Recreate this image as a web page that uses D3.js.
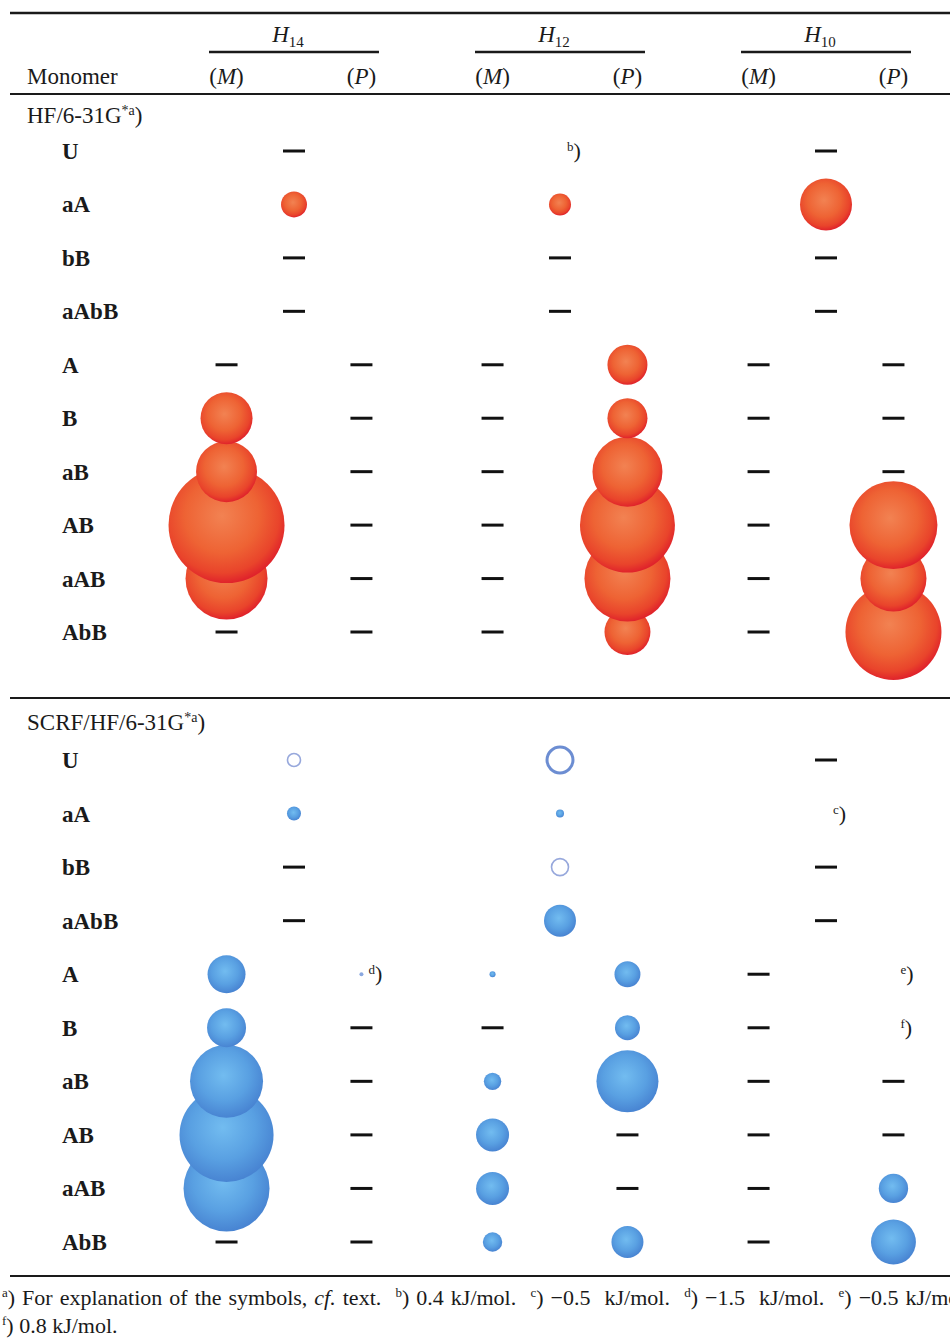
<!DOCTYPE html>
<html>
<head>
<meta charset="utf-8">
<script src="https://cdn.jsdelivr.net/npm/d3@7"></script>
<style>
  body { margin: 0; background: #fff; }
  svg { display: block; }
  text { font-family: "Liberation Serif", "Times New Roman", serif; fill: #1a1a1a; }
</style>
</head>
<body>
<svg id="chart" width="950" height="1338"></svg>
<script>
// Rows, helix groups and hands
const rows = ["U", "aA", "bB", "aAbB", "A", "B", "aB", "AB", "aAB", "AbB"];
const groups = ["14", "12", "10"];
const hands = ["M", "P"];

// sphere size (relative area units); 0 = "—"; "b" etc = footnote
// {ring: v} open circle, {dot: v, note: "d"} tiny dot with footnote
// first four rows: one entry per helix, other rows: (M),(P) per helix
const hfSingle = [
  [0, "b", 0],        // U
  [5.0, 3.6, 20.1],   // aA
  [0, 0, 0],          // bB
  [0, 0, 0]           // aAbB
];
const hfDouble = [
  [0, 0, 0, 11.9, 0, 0],        // A
  [20.1, 0, 0, 11.9, 0, 0],     // B
  [27.6, 0, 0, 36.4, 0, 0],     // aB
  [100, 0, 0, 67.0, 0, 57.5],   // AB
  [50.0, 0, 0, 55.0, 0, 32.4],  // aAB
  [0, 0, 0, 15.7, 0, 68.5]      // AbB
];
const scrfSingle = [
  [{ring: 1.26}, {ring: 5.0}, 0],  // U
  [1.46, 0.48, "c"],               // aA
  [0, {ring: 2.15}, 0],            // bB
  [0, 7.6, 0]                      // aAbB
];
const scrfDouble = [
  [10.7, {dot: 0.12, note: "d"}, 0.27, 5.0, 0, "e"],  // A
  [11.3, 0, 0, 4.64, 0, "f"],                         // B
  [39.6, 0, 2.25, 28.6, 0, 0],                        // aB
  [65.7, 0, 8.1, 0, 0, 0],                            // AB
  [55.0, 0, 8.1, 0, 0, 6.4],                          // aAB
  [0, 0, 2.8, 7.6, 0, 15.0]                           // AbB
];
const notes = [
  ["a", "For explanation of the symbols, ", "cf.", " text."],
  ["b", "0.4 kJ/mol."],
  ["c", "\u22120.5  kJ/mol."],
  ["d", "\u22121.5  kJ/mol."],
  ["e", "\u22120.5 kJ/mol."]
];

const svg = d3.select("#chart");
const defs = svg.append("defs");

function sphere(id, stops) {
  const g = defs.append("radialGradient").attr("id", id)
    .attr("cx", "46%").attr("cy", "42%").attr("r", "58%");
  g.selectAll("stop").data(stops).join("stop")
    .attr("offset", d => d[0]).attr("stop-color", d => d[1]);
}
sphere("red", [["0%", "#f28252"], ["55%", "#ee6334"], ["85%", "#e9442b"], ["100%", "#e0232b"]]);
sphere("blue", [["0%", "#72bcf0"], ["60%", "#59a0e2"], ["100%", "#4884d2"]]);

// Scales
const x = d3.scaleBand().domain(groups).range([209, 911]).paddingInner(0.361);
const hx = d3.scalePoint().domain(hands).range([0, x.bandwidth()]).padding(0.13);
const r = d3.scaleSqrt().domain([0, 100]).range([0, 58]);

const sections = [
  {label: "HF/6-31G", labelY: 123, rule: null, y: d3.scalePoint().domain(rows).range([151, 632]),
   single: hfSingle, double: hfDouble, fill: "url(#red)"},
  {label: "SCRF/HF/6-31G", labelY: 730, rule: 698, y: d3.scalePoint().domain(rows).range([760, 1242]),
   single: scrfSingle, double: scrfDouble, fill: "url(#blue)"}
];

// Rules
const rule = (y, w) => svg.append("line").attr("x1", 10).attr("x2", 950)
  .attr("y1", y).attr("y2", y).attr("stroke", "#1a1a1a").attr("stroke-width", w);
rule(13, 2.6);
rule(94, 2);
rule(1276, 2);

// Header
svg.append("text").attr("x", 27).attr("y", 84).attr("font-size", 23).text("Monomer");
const gh = svg.append("g").selectAll("g").data(groups).join("g");
gh.append("text")
  .attr("x", d => x(d) + x.bandwidth() / 2 - 6).attr("y", 42)
  .attr("font-size", 23).attr("text-anchor", "middle")
  .call(t => {
    t.append("tspan").attr("font-style", "italic").text("H");
    t.append("tspan").attr("font-size", 15).attr("dy", 5).text(d => d);
  });
gh.append("line")
  .attr("x1", d => x(d)).attr("x2", d => x(d) + x.bandwidth())
  .attr("y1", 52).attr("y2", 52).attr("stroke", "#1a1a1a").attr("stroke-width", 2.5);
gh.selectAll("text.hand").data(g => hands.map(h => ({g, h}))).join("text")
  .attr("class", "hand")
  .attr("x", d => x(d.g) + hx(d.h)).attr("y", 84)
  .attr("font-size", 23).attr("text-anchor", "middle")
  .call(t => {
    t.append("tspan").text("(");
    t.append("tspan").attr("font-style", "italic").text(d => d.h);
    t.append("tspan").text(")");
  });

function noteMark(sel, letter) {
  sel.append("tspan").attr("font-size", 13).attr("dy", -7).text(letter);
  sel.append("tspan").attr("dy", 7).text(")");
}

sections.forEach(sec => {
  if (sec.rule) rule(sec.rule, 2);
  const lab = svg.append("text").attr("x", 27).attr("y", sec.labelY).attr("font-size", 23);
  lab.append("tspan").text(sec.label);
  lab.append("tspan").attr("font-size", 14).attr("dy", -8).text("*a");
  lab.append("tspan").attr("dy", 8).text(")");

  svg.append("g").selectAll("text").data(rows).join("text")
    .attr("x", 62).attr("y", d => sec.y(d) + 8)
    .attr("font-size", 23).attr("font-weight", "bold").text(d => d);

  // flatten cells
  const cells = [];
  rows.forEach((row, i) => {
    if (i < 4) {
      groups.forEach((g, gi) => cells.push({row, i, cx: x(g) + x.bandwidth() / 2, v: sec.single[i][gi]}));
    } else {
      groups.forEach((g, gi) => hands.forEach((h, hi) =>
        cells.push({row, i, cx: x(g) + hx(h), v: sec.double[i - 4][gi * 2 + hi]})));
    }
  });
  const layer = svg.append("g");

  // dashes
  layer.selectAll("line.dash").data(cells.filter(c => c.v === 0)).join("line")
    .attr("class", "dash")
    .attr("x1", c => c.cx - 11).attr("x2", c => c.cx + 11)
    .attr("y1", c => sec.y(c.row)).attr("y2", c => sec.y(c.row))
    .attr("stroke", "#111").attr("stroke-width", 3);

  // spheres, lower rows first so upper ones overlap them
  const spheres = cells.filter(c => typeof c.v === "number" && c.v > 0).sort((a, b) => b.i - a.i);
  layer.selectAll("circle.sphere").data(spheres).join("circle")
    .attr("class", "sphere")
    .attr("cx", c => c.cx).attr("cy", c => sec.y(c.row)).attr("r", c => r(c.v))
    .attr("fill", sec.fill);

  // open rings
  layer.selectAll("circle.ring").data(cells.filter(c => c.v && c.v.ring)).join("circle")
    .attr("class", "ring")
    .attr("cx", c => c.cx).attr("cy", c => sec.y(c.row)).attr("r", c => r(c.v.ring))
    .attr("fill", "none").attr("stroke", c => c.v.ring > 3 ? "#6c8dd2" : "#97a8dc")
    .attr("stroke-width", c => c.v.ring > 3 ? 3 : 1.6);

  // tiny dots with footnote
  const dotted = cells.filter(c => c.v && c.v.dot);
  layer.selectAll("circle.dot").data(dotted).join("circle")
    .attr("class", "dot")
    .attr("cx", c => c.cx).attr("cy", c => sec.y(c.row)).attr("r", c => Math.max(1.8, r(c.v.dot)))
    .attr("fill", "#8aa8e0");

  // footnote marks
  layer.selectAll("text.mark").data(cells.filter(c => typeof c.v === "string" || (c.v && c.v.note))).join("text")
    .attr("class", "mark")
    .attr("x", c => c.cx + 7).attr("y", c => sec.y(c.row) + 7)
    .attr("font-size", 22)
    .each(function (c) { noteMark(d3.select(this), typeof c.v === "string" ? c.v : c.v.note); });
});

// Footnotes
const fn = svg.append("text").attr("x", 2).attr("y", 1305).attr("font-size", 22)
  .attr("word-spacing", 1.5).attr("xml:space", "preserve");
notes.forEach((n, k) => {
  fn.append("tspan").attr("font-size", 13).attr("dy", -8).text((k ? "   " : "") + n[0]);
  fn.append("tspan").attr("dy", 8).text(") " + n[1]);
  if (n[2]) {
    fn.append("tspan").attr("font-style", "italic").text(n[2]);
    fn.append("tspan").text(n[3]);
  }
});
const fn2 = svg.append("text").attr("x", 2).attr("y", 1333).attr("font-size", 22);
fn2.append("tspan").attr("font-size", 13).attr("dy", -8).text("f");
fn2.append("tspan").attr("dy", 8).text(") 0.8 kJ/mol.");
</script>
</body>
</html>
